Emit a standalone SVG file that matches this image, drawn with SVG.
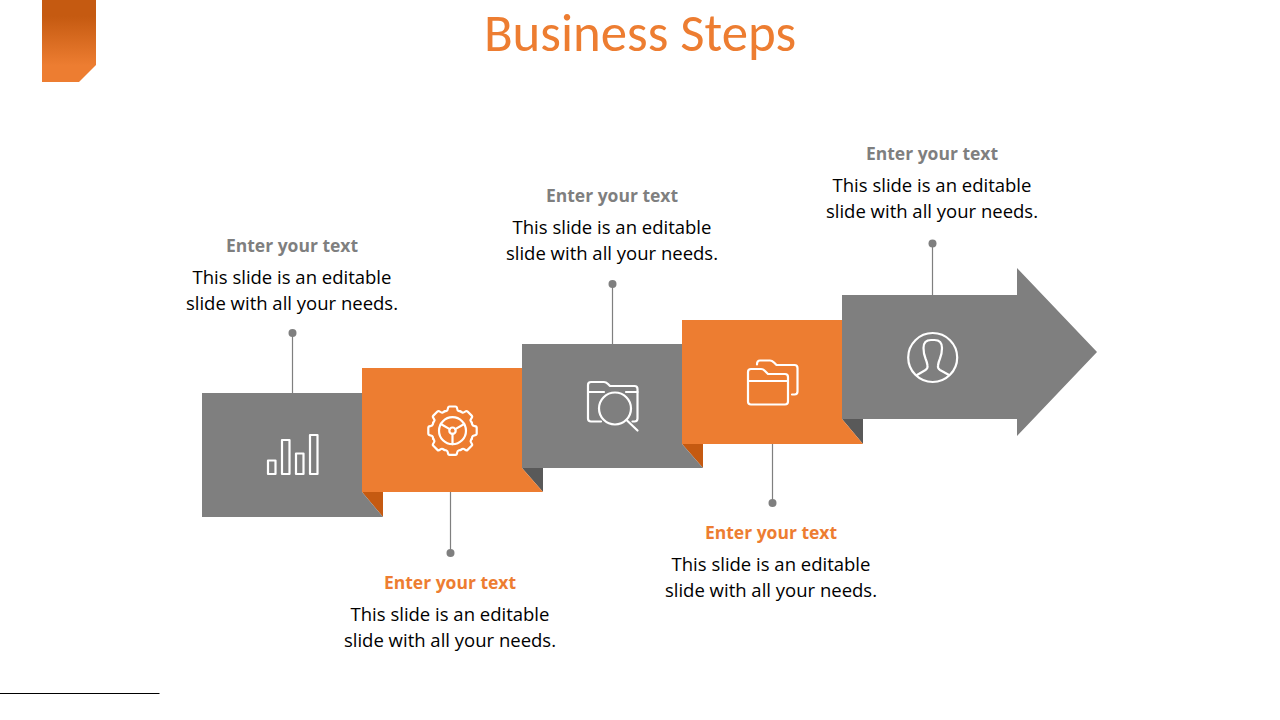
<svg xmlns="http://www.w3.org/2000/svg" width="1280" height="720" viewBox="0 0 1280 720">
<style>
.g{fill:#7f7f7f}.o{fill:#ed7d31}.do{fill:#c55a11}.dg{fill:#595959}
.ic{fill:none;stroke:#fff;stroke-width:2.200;stroke-linejoin:round;stroke-linecap:round}
.c{stroke:#7f7f7f;stroke-width:1.200;fill:none}.d{fill:#7f7f7f}
text{font-family:"Open Sans","Noto Sans",sans-serif;text-anchor:middle}
.h{font-size:17.500px;font-weight:700}.b{font-size:18.500px;fill:#000}
.hg{fill:#7f7f7f}.ho{fill:#ed7d31}
</style>
<defs>
<linearGradient id="tag" x1="0" y1="0" x2="0" y2="1"><stop offset="0.2" stop-color="#c55a11"/><stop offset="0.8" stop-color="#ed7d31"/></linearGradient>
<path id="tooth" d="M-8,-19.300L-6,-19.800Q-4.800,-20.200 -4.600,-22.200Q-4.400,-24.200 -2.900,-24.200L2.900,-24.200Q4.400,-24.200 4.600,-22.200Q4.800,-20.200 6,-19.800L8,-19.300"/>
</defs>
<rect width="1280" height="720" fill="#fff"/>
<path id="tag-shape" d="M42,0H96V65L79,82H42Z" fill="url(#tag)"/>
<text x="640" y="51" font-size="52.800" fill="#ed7d31" style="font-family:Carlito,Calibri,'Open Sans',sans-serif">Business Steps</text>
<line x1="0" y1="693.500" x2="159.500" y2="693.500" stroke="#000" stroke-width="1"/>
<g id="connectors">
<path class="c" d="M292.500,333V393M450.500,492V553M612.500,284V344M772.500,444V503M932.500,243V295"/>
<circle class="d" cx="292.500" cy="333" r="4"/><circle class="d" cx="450.500" cy="553" r="4"/><circle class="d" cx="612.500" cy="284" r="4"/><circle class="d" cx="772.500" cy="503" r="4"/><circle class="d" cx="932.500" cy="243.500" r="4"/>
</g>
<g id="step1">
<path class="do" d="M362,492H383V517Z"/>
<path class="g" d="M202,393H362V492L383,517H202Z"/>
<g class="ic"><rect x="268" y="460.500" width="7.500" height="13.500"/><rect x="282" y="440" width="7.500" height="34"/><rect x="296" y="453.500" width="7.500" height="20.500"/><rect x="310" y="435" width="7.500" height="39"/></g>
<text class="h hg" x="292" y="252">Enter your text</text>
<text class="b" x="292" y="284">This slide is an editable</text>
<text class="b" x="292" y="310">slide with all your needs.</text>
</g>
<g id="step2">
<path class="dg" d="M522,468H543V492Z"/>
<path class="o" d="M362,368H522V468L543,492H362Z"/>
<g class="ic" transform="translate(452.500,430.700)">
<use href="#tooth"/><use href="#tooth" transform="rotate(45)"/><use href="#tooth" transform="rotate(90)"/><use href="#tooth" transform="rotate(135)"/><use href="#tooth" transform="rotate(180)"/><use href="#tooth" transform="rotate(225)"/><use href="#tooth" transform="rotate(270)"/><use href="#tooth" transform="rotate(315)"/>
<circle r="13.500"/><circle r="3.200"/><path d="M0,3.200V13.500M-2.800,-1.600L-11.700,-6.700M2.800,-1.600L11.700,-6.700"/>
</g>
<text class="h ho" x="450" y="589">Enter your text</text>
<text class="b" x="450" y="621">This slide is an editable</text>
<text class="b" x="450" y="647">slide with all your needs.</text>
</g>
<g id="step3">
<path class="do" d="M682,444H703V468Z"/>
<path class="g" d="M522,344H682V444L703,468H522Z"/>
<g class="ic">
<path d="M601,421.500H591Q588,421.500 588,418.500V385Q588,382 591,382H604Q606,382 608,384L610,386H634.500Q637.500,386 637.500,389V418.500Q637.500,421.500 634.500,421.500H632.500"/>
<path d="M588,392H604M626,392H637.500"/>
<circle cx="615" cy="408.500" r="16"/><path d="M626.500,420L637.500,430.500"/>
</g>
<text class="h hg" x="612" y="202">Enter your text</text>
<text class="b" x="612" y="234">This slide is an editable</text>
<text class="b" x="612" y="260">slide with all your needs.</text>
</g>
<g id="step4">
<path class="dg" d="M842,419H863V444Z"/>
<path class="o" d="M682,320H842V419L863,444H682Z"/>
<g class="ic">
<path d="M751,404.500Q748,404.500 748,401.500V372Q748,369 751,369H761Q763,369 765,371L768,374H785Q788,374 788,377V401.500Q788,404.500 785,404.500Z"/>
<path d="M748,381H788"/>
<path d="M757,364.500Q757,360.500 760,360.500H770Q772,360.500 774,362.500L776.500,365H794.500Q797.500,365 797.500,368V391.500Q797.500,394.500 794.500,394.500H792"/>
</g>
<text class="h ho" x="771" y="539">Enter your text</text>
<text class="b" x="771" y="571">This slide is an editable</text>
<text class="b" x="771" y="597">slide with all your needs.</text>
</g>
<g id="step5">
<path class="g" d="M842,295H1017V268L1097,352L1017,436V419H842Z"/>
<g class="ic">
<circle cx="932.700" cy="357.500" r="24.500"/>
<path d="M917,375L925.500,370Q928,368.500 927.500,365.500Q927,362 925.500,358.500Q923.500,353.500 923.500,348Q923.500,340 931,340H934.500Q942,340 942,348Q942,353.500 940,358.500Q938.500,362 938,365.500Q937.500,368.500 940,370L949,375"/>
</g>
<text class="h hg" x="932" y="160">Enter your text</text>
<text class="b" x="932" y="192">This slide is an editable</text>
<text class="b" x="932" y="218">slide with all your needs.</text>
</g>
</svg>
